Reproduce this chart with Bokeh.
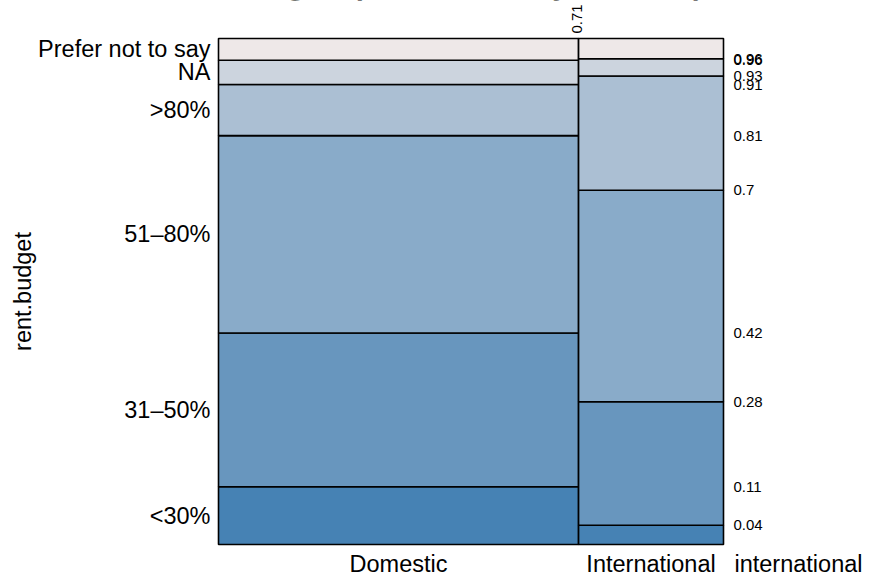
import numpy as np
from bokeh.plotting import figure
from bokeh.models import ColumnDataSource, Range1d
from bokeh.core.properties import value
from bokeh.embed import file_html
from bokeh.resources import INLINE

# ---- data -------------------------------------------------------------
groups = ["Domestic", "International"]
group_share = [0.713, 0.287]                      # column widths (share of respondents)

budget_levels = ["<30%", "31–50%", "51–80%", ">80%", "NA", "Prefer not to say"]
domestic_share = [0.114, 0.304, 0.390, 0.101, 0.048, 0.043]
international_share = [0.038, 0.244, 0.418, 0.226, 0.034, 0.040]

level_colors = ["#4682B4", "#6896BE", "#89ABC9", "#ABBFD3", "#CCD4DE", "#EEE8E8"]

title_text = "Share of budget spent on rent by student profile"
x_title = "international"
y_title = "rent.budget"

FONT = "Liberation Sans"

# ---- page layout (pixels) ----------------------------------------------
W, H = 870, 576
plot_left, plot_right = 218, 723       # unit square of the spine plot
plot_top, plot_bottom = 38, 544
ux = plot_right - plot_left            # pixels per data unit
uy = plot_bottom - plot_top


def dx(px):
    return px / ux


def dy(px):
    return px / uy


# ---- geometry of the spine plot ----------------------------------------
x_edges = np.concatenate([[0.0], np.cumsum(group_share)])
shares = [domestic_share, international_share]
y_edges = [np.concatenate([[0.0], np.cumsum(s)]) for s in shares]

left, right, bottom, top, fill = [], [], [], [], []
for gi in range(len(groups)):
    for li in range(len(budget_levels)):
        left.append(x_edges[gi])
        right.append(x_edges[gi + 1])
        bottom.append(y_edges[gi][li])
        top.append(y_edges[gi][li + 1])
        fill.append(level_colors[li])
src = ColumnDataSource(dict(left=left, right=right, bottom=bottom, top=top, fill=fill))

# the frame covers the whole page; the unit square sits where the plot region is
p = figure(width=W, height=H,
           x_range=Range1d(-dx(plot_left), dx(W - plot_left)),
           y_range=Range1d(-dy(H - plot_bottom), dy(plot_bottom)),
           output_backend="svg", toolbar_location=None, min_border=0)
p.axis.visible = False
p.grid.visible = False
p.outline_line_color = None
p.background_fill_color = "white"
p.border_fill_color = "white"

p.quad(left="left", right="right", bottom="bottom", top="top", source=src,
       fill_color="fill", line_color="black", line_width=1.6)


def put_text(xs, ys, texts, size, align="center", baseline="middle", angle=0.0, style="normal"):
    p.text(x=list(xs), y=list(ys), text=list(texts), angle=angle,
           text_font=value(FONT), text_font_size=value(size), text_font_style=style,
           text_align=align, text_baseline=baseline, text_color="black")


# left: level names at the middle of each Domestic segment
dom = y_edges[0]
left_ticks = [(dom[i] + dom[i + 1]) / 2 for i in range(len(budget_levels))]
put_text([-dx(8)] * len(left_ticks), left_ticks, budget_levels, "23.5px", align="right")

# y variable name, rotated
put_text([-dx(196)], [0.5], [y_title], "23.5px", angle=np.pi / 2)

# bottom: group names under the middle of each column
bottom_ticks = [(x_edges[i] + x_edges[i + 1]) / 2 for i in range(len(groups))]
put_text(bottom_ticks, [-dy(19)] * len(groups), groups, "23.5px")

# x variable name, right of the group labels
put_text([1 + dx(75)], [-dy(19)], [x_title], "23.5px")

# right: cumulative proportions of both columns
right_ticks = list(y_edges[0][1:-1]) + list(y_edges[1][1:-1])
right_labels = [f"{round(v, 2):g}" for v in right_ticks]
put_text([1 + dx(10)] * len(right_ticks), right_ticks, right_labels, "15px", align="left")

# top: position of the column split, rotated
top_ticks = list(x_edges[1:-1])
top_labels = [f"{round(v, 2):g}" for v in top_ticks]
put_text([t - dx(2) for t in top_ticks], [1 + dy(5)] * len(top_ticks), top_labels, "15px",
         align="left", angle=np.pi / 2)

# main title, running off the top edge of the page
put_text([-dx(plot_left - 106)], [dy(plot_bottom + 16)], [title_text], "29.5px",
         align="left", baseline="alphabetic", style="bold")

open("out.html", "w").write(file_html(p, INLINE))
